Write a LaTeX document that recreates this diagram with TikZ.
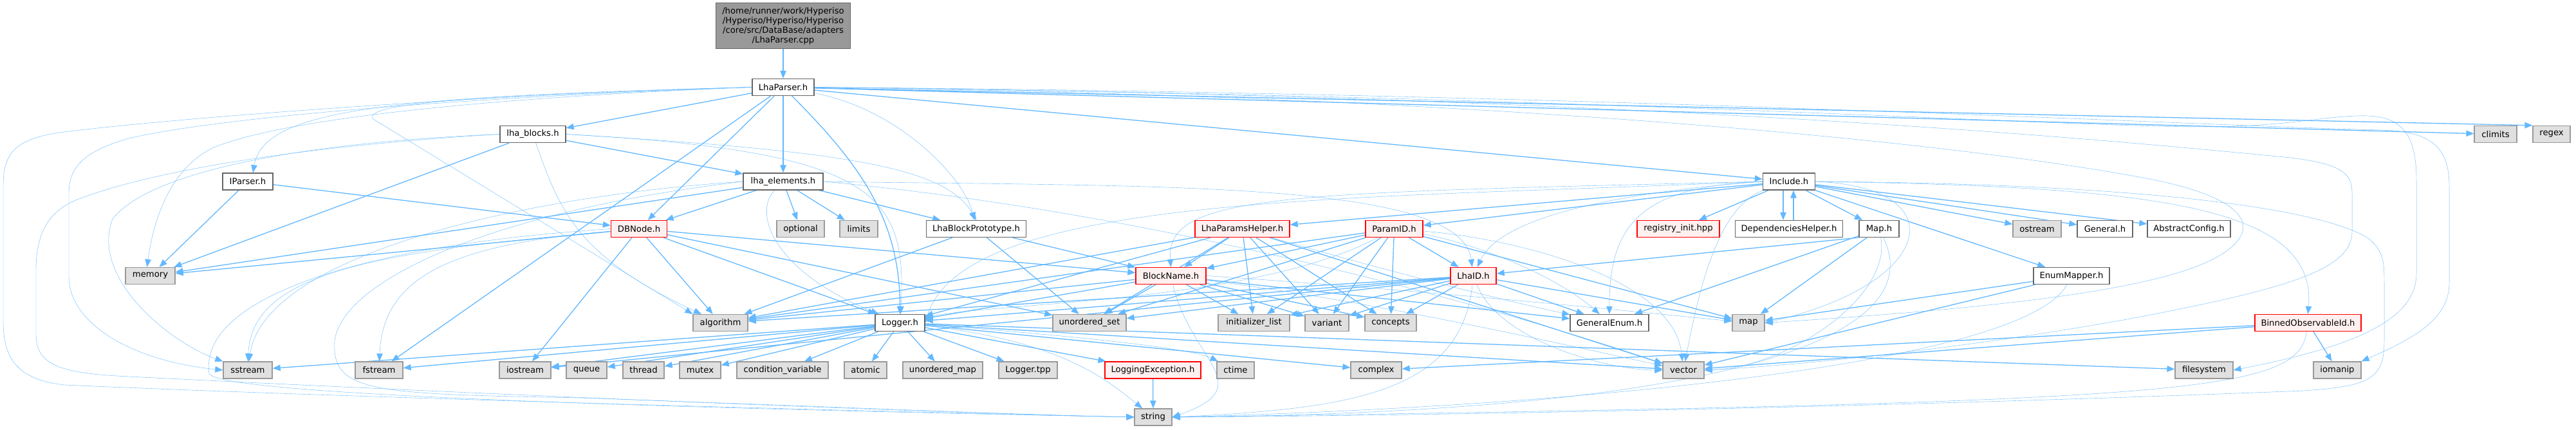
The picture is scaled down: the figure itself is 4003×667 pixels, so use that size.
\documentclass[tikz,border=0pt]{standalone}
\usepackage{fontspec}
\setmainfont{DejaVu Sans}
\usetikzlibrary{arrows.meta,backgrounds}
\definecolor{edgeblue}{HTML}{63B8FF}
\definecolor{sysfill}{HTML}{E0E0E0}
\definecolor{sysline}{HTML}{999999}
\definecolor{hdrline}{HTML}{666666}
\definecolor{truncfill}{HTML}{FFF0F0}
\definecolor{truncline}{HTML}{FF0000}
\definecolor{mainfill}{HTML}{999999}

\begin{document}
\begin{tikzpicture}[x=1pt,y=-1pt,->,>={Triangle[length=12pt,width=9.5pt]},
                    line width=1.3pt,every edge/.style={draw=edgeblue,line width=1.3pt}]
  \tikzstyle{every node}=[font=\fontsize{13.2}{15}\selectfont,rectangle,minimum height=26pt,inner sep=0pt]
  \tikzstyle{hdr}=[draw=hdrline,fill=white]
  \tikzstyle{sys}=[draw=sysline,fill=sysfill]
  \tikzstyle{trunc}=[draw=truncline,fill=truncfill]
  \tikzstyle{mainfile}=[draw=hdrline,fill=mainfill,align=center,minimum height=71pt]
  \tikzstyle{dep}=[draw=edgeblue]

  \useasboundingbox (0,0) rectangle (4003,667);

  \node[mainfile,minimum width=209pt] (mainf) at (1217,40)
       {/home/runner/work/Hyperiso\\/Hyperiso/Hyperiso/Hyperiso\\/core/src/DataBase/adapters\\/LhaParser.cpp};
  \node[hdr,minimum width=96pt]   (lp)      at (1217,135.5) {LhaParser.h};
  \node[hdr,minimum width=102pt]  (lhb)     at (828,208.5)  {lha\_blocks.h};
  \node[sys,minimum width=66pt]   (climits) at (3878,208.5) {climits};
  \node[sys,minimum width=58pt]   (regex)   at (3965,208.5) {regex};
  \node[hdr,minimum width=78pt]   (iparser) at (385,282)    {IParser.h};
  \node[hdr,minimum width=124pt]  (lhe)     at (1217,282)   {lha\_elements.h};
  \node[hdr,minimum width=81pt]   (inc)     at (2780,282)   {Include.h};
  % row 4
  \node[trunc,minimum width=87pt] (dbnode)  at (993,355.5)  {DBNode.h};
  \node[sys,minimum width=74pt]   (optional) at (1244,355.5) {optional};
  \node[sys,minimum width=59pt]   (limits)  at (1334.5,355.5) {limits};
  \node[hdr,minimum width=155pt]  (lbp)     at (1517,355.5) {LhaBlockPrototype.h};
  \node[trunc,minimum width=147pt] (lph)    at (1930.5,355.5) {LhaParamsHelper.h};
  \node[trunc,minimum width=89pt] (pid)     at (2166.5,355.5) {ParamID.h};
  \node[trunc,minimum width=128pt] (reg)    at (2608,355.5) {registry\_init.hpp};
  \node[hdr,minimum width=167pt]  (dh)      at (2780,355.5) {DependenciesHelper.h};
  \node[hdr,minimum width=62pt]   (maph)    at (2920,355.5) {Map.h};
  \node[sys,minimum width=75pt]   (ostream) at (3165.5,355.5) {ostream};
  \node[hdr,minimum width=86pt]   (general) at (3271,355.5) {General.h};
  \node[hdr,minimum width=129pt]  (absconf) at (3401.5,355.5) {AbstractConfig.h};
  % row 5
  \node[sys,minimum width=77pt]   (memory)  at (233.5,428.5) {memory};
  \node[trunc,minimum width=109pt] (bn)     at (1819.5,428.5) {BlockName.h};
  \node[trunc,minimum width=71pt] (lid)     at (2289.5,428.5) {LhaID.h};
  \node[hdr,minimum width=118pt]  (em)      at (3219,428.5) {EnumMapper.h};
  % row 6
  \node[sys,minimum width=85pt]   (algorithm) at (1119.5,501.5) {algorithm};
  \node[hdr,minimum width=77pt]   (logger)  at (1398.5,501.5) {Logger.h};
  \node[sys,minimum width=114pt]  (uset)    at (1693,501.5) {unordered\_set};
  \node[sys,minimum width=111pt]  (ilist)   at (1948.5,501.5) {initializer\_list};
  \node[sys,minimum width=68pt]   (variant) at (2062,501.5) {variant};
  \node[sys,minimum width=80pt]   (concepts) at (2161,501.5) {concepts};
  \node[hdr,minimum width=122pt]  (ge)      at (2501,501.5) {GeneralEnum.h};
  \node[sys,minimum width=50pt]   (map)     at (2717,501.5) {map};
  \node[trunc,minimum width=165pt] (boi)    at (3586.5,501.5) {BinnedObservableId.h};
  % row 7
  \node[sys,minimum width=76pt]   (sstream) at (385,575)  {sstream};
  \node[sys,minimum width=74pt]   (fstream) at (589,575)  {fstream};
  \node[sys,minimum width=80pt]   (iostream) at (816,575) {iostream};
  \node[sys,minimum width=63pt]   (queue)   at (911.5,575) {queue};
  \node[sys,minimum width=64pt]   (thread)  at (1000,575) {thread};
  \node[sys,minimum width=64pt]   (mutex)   at (1088,575) {mutex};
  \node[sys,minimum width=142pt]  (condvar) at (1216,575) {condition\_variable};
  \node[sys,minimum width=66pt]   (atomic)  at (1345,575) {atomic};
  \node[sys,minimum width=124pt]  (umap)    at (1465,575) {unordered\_map};
  \node[sys,minimum width=91pt]   (ltpp)    at (1597.5,575) {Logger.tpp};
  \node[trunc,minimum width=149pt] (lexc)   at (1791.5,575) {LoggingException.h};
  \node[sys,minimum width=58pt]   (ctime)   at (1920,575) {ctime};
  \node[sys,minimum width=79pt]   (complex) at (2138.5,575) {complex};
  \node[sys,minimum width=64pt]   (vector)  at (2616,575) {vector};
  \node[sys,minimum width=90pt]   (filesystem) at (3425,575) {filesystem};
  \node[sys,minimum width=74pt]   (iomanip) at (3632,575) {iomanip};
  \node[sys,minimum width=58pt]   (string)  at (1792,648) {string};

  \begin{scope}[on background layer]
    \path (mainf) edge (lp);
    % LhaParser.h
    \path (lp) edge (lhb) edge (lhe) edge (dbnode) edge (inc) edge (fstream)
               edge (climits) edge (regex.north west)
               edge[out=-45,in=90] (logger);
    \draw[dep] (lp) .. controls (1400,170) and (1500,280) .. (lbp);
    \draw[dep] (lp.west) .. controls (600,150) and (410,170) .. ([xshift=8pt]iparser.north);
    \draw[dep] (lp.west) .. controls (800,150) and (450,180) .. (330,230)
               .. controls (270,260) and (240,330) .. ([xshift=-5pt]memory.north);
    \draw[dep] (lp.west) .. controls (750,150) and (350,180) .. (200,215)
               .. controls (130,235) and (107,260) .. (107,300) -- (107,430)
               .. controls (107,500) and (200,560) .. (sstream.west);
    \draw[dep] (lp.west) .. controls (800,145) and (300,180) .. (100,205)
               .. controls (20,215) and (5,240) .. (5,290) -- (5,500)
               .. controls (5,560) and (30,590) .. (100,598)
               .. controls (600,620) and (1400,640) .. (string.west);
    \draw[dep] (lp.west) .. controls (750,148) and (560,160) .. (580,185) -- (algorithm.north west);
    \draw[dep] (lp.east) .. controls (2500,150) and (3200,197) .. (3420,197)
               .. controls (3560,197) and (3620,178) .. (3680,180)
               .. controls (3740,182) and (3755,220) .. (3755,280) -- (3755,425)
               .. controls (3755,500) and (3650,540) .. (filesystem.east);
    \draw[dep] (lp.east) .. controls (2500,145) and (3400,195) .. (3700,202)
               .. controls (3780,204) and (3806,230) .. (3806,290) -- (3806,440)
               .. controls (3806,500) and (3740,530) .. (iomanip.north east);
    \draw[dep] (lp.east) .. controls (2600,150) and (3300,220) .. (3560,245)
               .. controls (3640,255) and (3655,270) .. (3655,300) -- (3655,360)
               .. controls (3655,420) and (3550,450) .. (3300,497)
               .. controls (3000,550) and (2750,570) .. (vector.east);
    \draw[dep] (lp.east) .. controls (2400,150) and (3100,230) .. (3350,280)
               .. controls (3470,305) and (3500,340) .. (3480,370)
               .. controls (3440,430) and (3250,470) .. (map.east);
    % lha_blocks.h
    \path (lhb) edge (lhe) edge (memory);
    \draw[dep] (lhb.east) .. controls (1320,235) and (1470,260) .. (lbp.north);
    \draw[dep] (lhb.east) .. controls (1360,235) and (1410,300) .. (logger);
    \draw[dep] (lhb) .. controls (870,330) and (900,400) .. (algorithm);
    \draw[dep] (lhb.west) .. controls (450,222) and (230,270) .. (175,340)
               .. controls (140,430) and (260,530) .. (sstream.north west);
    \draw[dep] (lhb.west) .. controls (500,225) and (250,260) .. (120,310)
               .. controls (70,330) and (56,370) .. (56,420) -- (56,520)
               .. controls (56,570) and (100,580) .. (200,585)
               .. controls (700,610) and (1400,640) .. (string.west);
    % IParser.h
    \path (iparser) edge (memory) edge (dbnode);
    % lha_elements.h
    \path (lhe) edge (dbnode) edge (optional) edge (limits) edge (lbp) edge (memory);
    \draw[dep] (lhe.east) .. controls (1800,330) and (2300,470) .. (vector);
    \draw[dep] (lhe) .. controls (1170,330) and (1200,420) .. (logger);
    \draw[dep] (lhe.west) .. controls (800,305) and (410,400) .. (sstream);
    \draw[dep] (lhe.west) .. controls (750,330) and (530,440) .. (520,530)
               .. controls (515,610) and (580,612) .. (900,618)
               .. controls (1300,632) and (1600,645) .. (string.west);
    \draw[dep] (lhe.east) .. controls (1800,290) and (2270,280) .. (lid);
    % DBNode.h
    \path (dbnode) edge (memory) edge (iostream) edge (algorithm) edge (logger)
                   edge (bn) edge (uset);
    \draw[dep] (dbnode) .. controls (600,390) and (390,420) .. (sstream);
    \draw[dep] (dbnode) .. controls (700,380) and (595,430) .. (fstream);
    \draw[dep] (dbnode.west) .. controls (500,385) and (310,480) .. (325,580)
               .. controls (335,615) and (1100,635) .. (string.west);
    % Include.h
    \path (inc) edge (reg) edge (maph) edge (ostream) edge (general) edge (absconf)
                edge (em) edge (lph) edge (pid);
    \path ([xshift=-9pt]inc.south) edge ([xshift=-9pt]dh.north);
    \path ([xshift=7pt]dh.north) edge ([xshift=7pt]inc.south);
    \draw[dep] (inc.west) .. controls (2500,300) and (2330,340) .. (lid);
    \draw[dep] (inc.west) .. controls (2000,300) and (1810,300) .. (bn.north);
    \draw[dep] (inc.west) .. controls (2100,310) and (1500,300) .. (logger.east);
    \draw[dep] (inc.west) .. controls (2560,290) and (2500,340) .. (ge);
    \draw[dep] (inc) .. controls (2670,320) and (2640,450) .. (vector);
    \draw[dep] (inc.east) .. controls (3040,290) and (3010,440) .. (map.east);
    \draw[dep] (inc.east) .. controls (3350,290) and (3600,320) .. (boi.north);
    \draw[dep] (inc.east) .. controls (3300,285) and (3600,320) .. (3680,370)
               .. controls (3705,390) and (3705,410) .. (3705,440) -- (3705,530)
               .. controls (3705,590) and (3680,600) .. (3580,607)
               .. controls (3000,630) and (2300,645) .. (string.east);
    % Map.h, EnumMapper.h, BinnedObservableId.h
    \path (maph) edge (map) edge (ge);
    \path (maph.south west) edge (lid);
    \draw[dep] (maph) .. controls (2940,460) and (2780,570) .. (vector.east);
    \draw[dep] (maph) .. controls (3000,520) and (2700,640) .. (string.east);
    \path (em) edge (map) edge (vector);
    \draw[dep] (em) .. controls (3150,560) and (2500,630) .. (string.east);
    \path (boi) edge (iomanip) edge (vector) edge (complex);
    \draw[dep] (boi) .. controls (3570,610) and (3420,625) .. (string.east);
    % LhaParamsHelper.h, ParamID.h
    \path (lph) edge (bn) edge (logger) edge (uset) edge (ilist) edge (variant)
                edge (concepts) edge (vector) edge (algorithm);
    \draw[dep] (lph) .. controls (2150,420) and (2350,470) .. (ge);
    \path (pid) edge (bn) edge (lid) edge (uset) edge (ilist) edge (variant)
                edge (concepts) edge (map) edge (algorithm);
    \draw[dep] (pid) .. controls (2300,380) and (2420,430) .. (ge);
    \draw[dep] (pid) .. controls (2350,370) and (2600,430) .. (vector);
    \draw[dep] (pid) .. controls (1950,470) and (1550,470) .. (logger);
    % BlockName.h, LhaID.h
    \path (bn) edge (logger) edge (uset) edge (ilist) edge (variant) edge (concepts)
               edge (ge) edge (algorithm);
    \draw[dep] (bn.east) .. controls (2200,450) and (2500,480) .. (map);
    \draw[dep] (bn) .. controls (2150,470) and (2450,540) .. (vector);
    \draw[dep] (bn) .. controls (1850,560) and (1960,600) .. (string.east);
    \path (lid) edge (logger) edge (uset) edge (ilist) edge (variant) edge (concepts)
                edge (ge) edge (map) edge (algorithm) edge (iostream);
    \draw[dep] (lid) .. controls (2330,530) and (2500,575) .. (vector);
    \draw[dep] (lid) .. controls (2270,610) and (2100,635) .. (string.east);
    % Logger.h
    \path (logger) edge (sstream) edge (fstream) edge (iostream) edge (queue) edge (thread)
                   edge (mutex) edge (condvar) edge (atomic) edge (umap) edge (ltpp)
                   edge (lexc) edge (complex) edge (vector) edge (filesystem);
    \draw[dep] (logger) .. controls (1650,520) and (1850,540) .. (ctime);
    \draw[dep] (logger) .. controls (1650,530) and (1720,590) .. (string);
    \path (lexc) edge (string);
    \path (lbp) edge (algorithm) edge (uset) edge (bn);
  \end{scope}
\end{tikzpicture}
\end{document}
